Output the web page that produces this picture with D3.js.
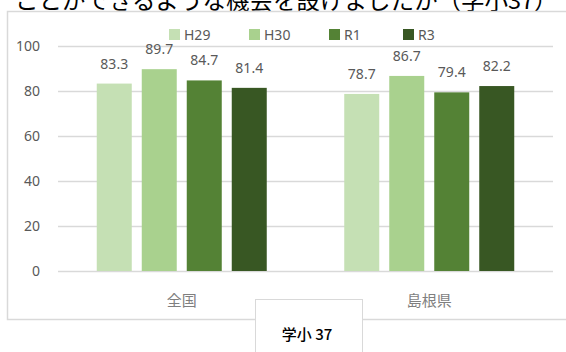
<!DOCTYPE html>
<html>
<head>
<meta charset="utf-8">
<script src="https://cdn.jsdelivr.net/npm/d3@7"></script>
<style>
  html, body { margin: 0; padding: 0; background: #fff; }
  svg { display: block; }
</style>
</head>
<body>
<svg id="chart" width="566" height="352"></svg>
<script>
// Survey results by region and year (%)
const categories = ["全国", "島根県"];
const seriesNames = ["H29", "H30", "R1", "R3"];
const seriesColors = ["#c5e0b4", "#a9d18e", "#548235", "#385723"];
const valuesH29 = [83.3, 78.7];
const valuesH30 = [89.7, 86.7];
const valuesR1 = [84.7, 79.4];
const valuesR3 = [81.4, 82.2];
const yTicks = [0, 20, 40, 60, 80, 100];
const titleText = "ことができるような機会を設けましたか（学小37）";
const tagText = "学小 37";

const seriesValues = [valuesH29, valuesH30, valuesR1, valuesR3];
const rows = categories.map((c, i) => ({
  category: c,
  values: seriesNames.map((s, k) => ({ key: s, value: seriesValues[k][i], color: seriesColors[k] }))
}));

const svg = d3.select("#chart");
const fontJP = "'Noto Sans CJK JP', 'Noto Sans', sans-serif";

// Heading line above the chart frame (continues from the previous line)
svg.append("text")
  .attr("x", 15).attr("y", 9)
  .attr("font-family", fontJP)
  .attr("font-size", 23.5)
  .attr("fill", "#000")
  .text(titleText);

// Chart frame
svg.append("rect")
  .attr("x", 7.5).attr("y", 11.5)
  .attr("width", 580).attr("height", 308)
  .attr("fill", "#fff")
  .attr("stroke", "#d9d9d9")
  .attr("stroke-width", 1.5);

const plot = { left: 58, right: 553, top: 46, bottom: 271 };

const x0 = d3.scaleBand()
  .domain(categories)
  .range([plot.left, plot.right])
  .paddingInner(0)
  .paddingOuter(0);

const groupWidth = 170;
const x1 = d3.scaleBand()
  .domain(seriesNames)
  .range([0, groupWidth])
  .paddingInner(10 / 45)
  .paddingOuter(0);

const y = d3.scaleLinear().domain([0, 100]).range([plot.bottom, plot.top]);

// Gridlines and y tick labels
const yAxis = d3.axisLeft(y).tickValues(yTicks).tickSize(-(plot.right - plot.left)).tickPadding(18);
const gy = svg.append("g")
  .attr("transform", `translate(${plot.left},0)`)
  .call(yAxis);
gy.select(".domain").remove();
gy.selectAll(".tick line").attr("stroke", "#d9d9d9").attr("stroke-width", 1.5);
gy.selectAll(".tick text")
  .attr("font-family", "'Noto Sans', sans-serif")
  .attr("font-size", 14)
  .attr("fill", "#595959");

// Bars
const groups = svg.append("g").selectAll("g")
  .data(rows)
  .join("g")
  .attr("transform", d => `translate(${x0(d.category) + (x0.bandwidth() - groupWidth) / 2},0)`);

groups.selectAll("rect")
  .data(d => d.values)
  .join("rect")
  .attr("x", d => x1(d.key))
  .attr("y", d => y(d.value))
  .attr("width", x1.bandwidth())
  .attr("height", d => y(0) - y(d.value))
  .attr("fill", d => d.color);

// Value labels
groups.selectAll("text")
  .data(d => d.values)
  .join("text")
  .attr("x", d => x1(d.key) + x1.bandwidth() / 2)
  .attr("y", d => y(d.value) - 15)
  .attr("text-anchor", "middle")
  .attr("font-family", "'Noto Sans', sans-serif")
  .attr("font-size", 14)
  .attr("fill", "#595959")
  .text(d => d.value.toFixed(1));

// Category axis labels
const xAxis = d3.axisBottom(x0).tickSize(0).tickPadding(24);
const gx = svg.append("g")
  .attr("transform", `translate(0,${plot.bottom})`)
  .call(xAxis);
gx.select(".domain").remove();
gx.selectAll(".tick text")
  .attr("font-family", fontJP)
  .attr("font-size", 15)
  .attr("fill", "#7f7f7f");

// Legend
const legendX = [169, 249, 329, 403];
const legend = svg.append("g").selectAll("g")
  .data(seriesNames)
  .join("g")
  .attr("transform", (d, i) => `translate(${legendX[i]},29)`);
legend.append("rect")
  .attr("width", 11).attr("height", 11)
  .attr("fill", (d, i) => seriesColors[i]);
legend.append("text")
  .attr("x", 15).attr("y", 10.5)
  .attr("font-family", "'Noto Sans', sans-serif")
  .attr("font-size", 14)
  .attr("fill", "#595959")
  .text(d => d);

// Tag box below the chart
svg.append("rect")
  .attr("x", 255.5).attr("y", 299.5)
  .attr("width", 107).attr("height", 60)
  .attr("fill", "#fff")
  .attr("stroke", "#d9d9d9")
  .attr("stroke-width", 1);
svg.append("text")
  .attr("x", 307).attr("y", 340)
  .attr("text-anchor", "middle")
  .attr("font-family", fontJP)
  .attr("font-size", 15)
  .attr("font-weight", 500)
  .attr("fill", "#000")
  .text(tagText);
</script>
</body>
</html>
